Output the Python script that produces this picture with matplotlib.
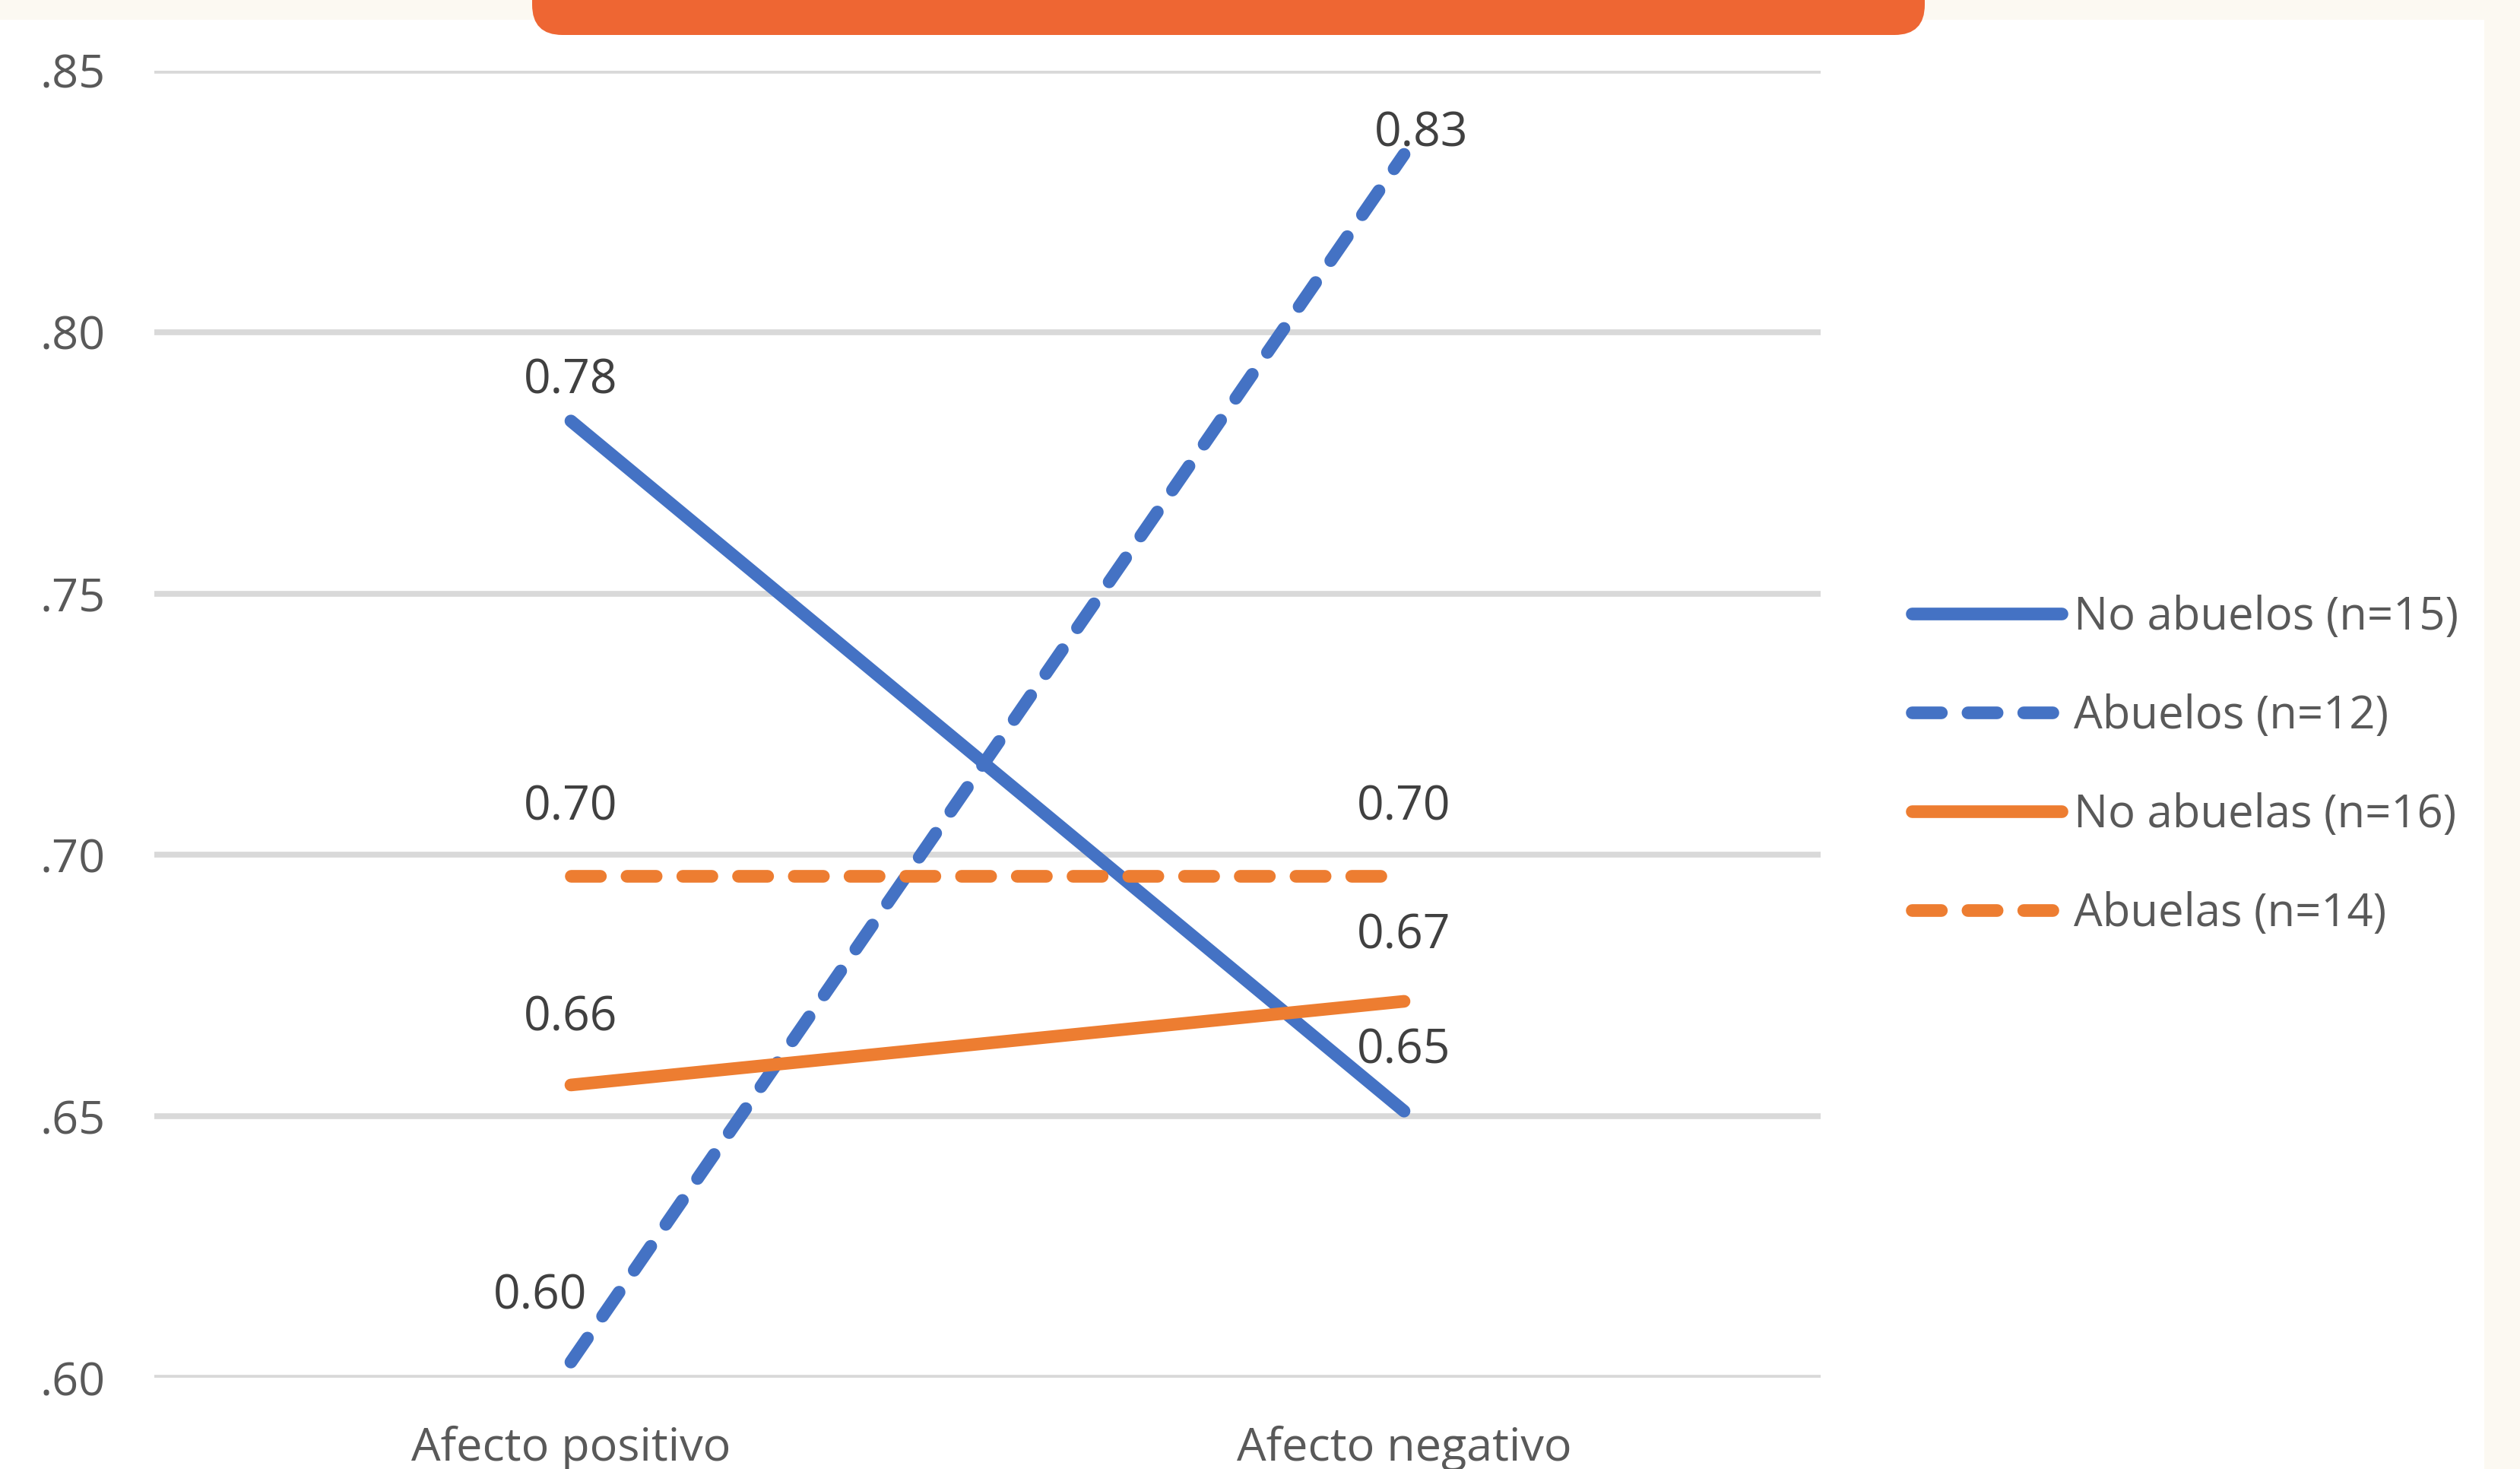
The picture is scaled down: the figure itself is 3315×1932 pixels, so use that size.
import matplotlib
matplotlib.use('Agg')
import matplotlib.pyplot as plt
from matplotlib.patches import Rectangle, FancyBboxPatch

plt.rcParams['font.family'] = ['Open Sans', 'DejaVu Sans']

categories = ['Afecto positivo', 'Afecto negativo']
series_names = ['No abuelos (n=15)', 'Abuelos (n=12)', 'No abuelas (n=16)', 'Abuelas (n=14)']
no_abuelos = [0.783, 0.651]
abuelos = [0.603, 0.834]
no_abuelas = [0.656, 0.672]
abuelas = [0.696, 0.696]
y_ticks = [0.60, 0.65, 0.70, 0.75, 0.80, 0.85]
y_tick_labels = ['.60', '.65', '.70', '.75', '.80', '.85']

blue = '#4472C4'
orange = '#ED7D31'
txt = '#595959'
lab = '#404040'

fig = plt.figure(figsize=(33.15, 19.32), dpi=100)
fig.patch.set_facecolor('#FCF9F2')
# white panel of the screenshot
fig.patches.append(Rectangle((0, 0), 3268 / 3315, 1 - 26 / 1932, transform=fig.transFigure,
                             facecolor='white', edgecolor='none', zorder=-5))
# orange banner cut at the top
fig.patches.append(FancyBboxPatch((700 / 3315, 1 - 46 / 1932), 1832 / 3315, 0.1,
                                  boxstyle='round,pad=0,rounding_size=0.012',
                                  transform=fig.transFigure, mutation_aspect=3315 / 1932,
                                  facecolor='#EE6633', edgecolor='none', zorder=5))

ax = fig.add_axes([203 / 3315, 1 - 1812 / 1932, 2192 / 3315, 1719 / 1932])
ax.set_facecolor('none')
ax.set_zorder(2)

x = range(len(categories))
lw = 12
dash = (2.3, 2.1)
styles = [(no_abuelos, blue, None), (abuelos, blue, dash),
          (no_abuelas, orange, None), (abuelas, orange, dash)]
# label offsets in pixels (dx, dy) for each point
offsets = [[(0, 52), (0, 79)],
           [(-40, 86), (23, 27)],
           [(0, 88), (0, 86)],
           [(0, 90), (0, 90)]]

for (vals, col, ds), name, offs in zip(styles, series_names, offsets):
    line, = ax.plot(x, vals, color=col, lw=lw, label=name, zorder=3,
                    solid_capstyle='round', dash_capstyle='round')
    if ds is not None:
        line.set_dashes(ds)
    for xi, v, (dx, dy) in zip(x, vals, offs):
        ax.annotate('%.2f' % v, (xi, v), xytext=(dx, dy), textcoords='offset pixels',
                    ha='center', va='center', fontsize=45, color=lab, zorder=4)

ax.set_xlim(-0.5, 1.5)
ax.set_ylim(0.60, 0.85)
ax.set_yticks(y_ticks)
ax.set_yticklabels(y_tick_labels)
ax.set_xticks(list(x))
ax.set_xticklabels(categories)
ax.tick_params(axis='y', length=0, pad=46, labelsize=44, labelcolor=txt)
ax.tick_params(axis='x', length=0, pad=45, labelsize=44, labelcolor=txt)
ax.grid(axis='y', color='#D9D9D9', lw=5.5, zorder=1)
ax.set_axisbelow(True)
for s in ax.spines.values():
    s.set_visible(False)

fig.legend(loc='center left', bbox_to_anchor=(2515 / 3315, 1 - 1007 / 1932), frameon=False,
           fontsize=43, handlelength=3.3, handletextpad=0.27, labelspacing=1.17,
           borderpad=0, borderaxespad=0, labelcolor=txt)

fig.savefig('out.png', dpi=100, facecolor=fig.get_facecolor())
